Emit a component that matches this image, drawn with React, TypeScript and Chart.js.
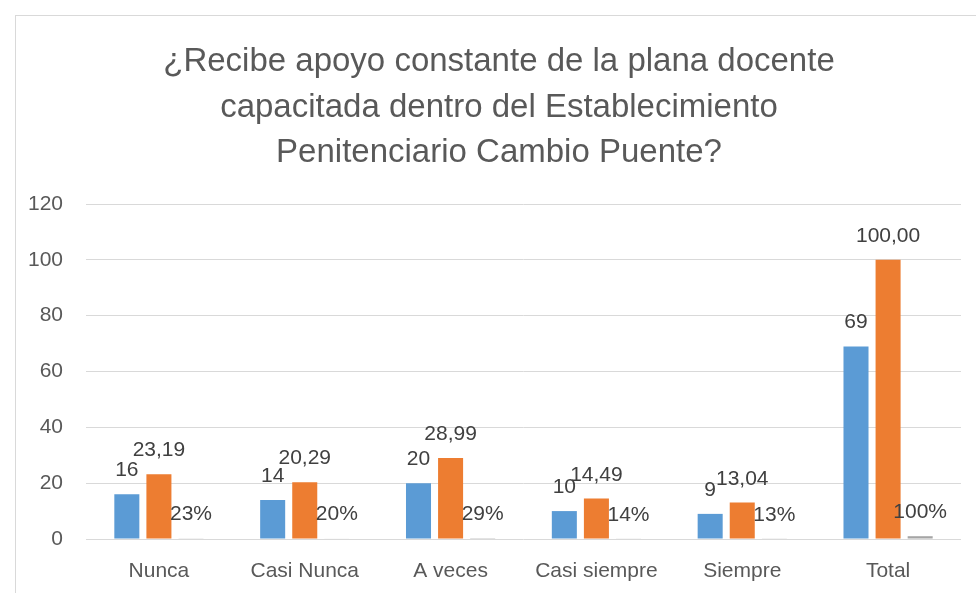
import React, { useEffect, useRef } from "react";
import { Chart, registerables } from "chart.js";

Chart.register(...registerables);

const categories = ["Nunca", "Casi Nunca", "A veces", "Casi siempre", "Siempre", "Total"];
const frecuencia = [16, 14, 20, 10, 9, 69];
const porcentaje = [23.19, 20.29, 28.99, 14.49, 13.04, 100.0];
const proporcion = [0.23, 0.2, 0.29, 0.14, 0.13, 1.0];
const titleLines = [
  "¿Recibe apoyo constante de la plana docente",
  "capacitada dentro del Establecimiento",
  "Penitenciario Cambio Puente?",
];
const yTicks = { min: 0, max: 120, step: 20 };

const FONT = "'Liberation Sans', Arial, sans-serif";

const fmtCount = (v: number) => String(v);
const fmtPct = (v: number) => v.toFixed(2).replace(".", ",");
const fmtProp = (v: number) => Math.round(v * 100) + "%";

const decorPlugin = {
  id: "decor",
  beforeDraw(chart: any) {
    const ctx = chart.ctx;
    ctx.save();
    ctx.fillStyle = "#ffffff";
    ctx.fillRect(0, 0, chart.width, chart.height);
    ctx.strokeStyle = "#d9d9d9";
    ctx.lineWidth = 1;
    ctx.strokeRect(15.5, 15.5, chart.width + 50, chart.height + 50);
    // title
    ctx.fillStyle = "#595959";
    ctx.font = `33px ${FONT}`;
    ctx.textAlign = "center";
    ctx.textBaseline = "alphabetic";
    const cx = 499;
    titleLines.forEach((line, i) => {
      ctx.fillText(line, cx, 71 + i * 45.5);
    });
    ctx.restore();
  },
  afterDatasetsDraw(chart: any) {
    const ctx = chart.ctx;
    const formatters = [fmtCount, fmtPct, fmtProp];
    ctx.save();
    ctx.fillStyle = "#404040";
    ctx.font = `21px ${FONT}`;
    ctx.textAlign = "center";
    ctx.textBaseline = "alphabetic";
    chart.data.datasets.forEach((ds: any, di: number) => {
      const meta = chart.getDatasetMeta(di);
      meta.data.forEach((bar: any, i: number) => {
        const v = ds.data[i];
        ctx.fillText(formatters[di](v), bar.x, bar.y - 18);
      });
    });
    ctx.restore();
  },
};

export default function App() {
  const ref = useRef<HTMLCanvasElement | null>(null);
  useEffect(() => {
    if (!ref.current) return;
    const chart = new Chart(ref.current, {
      type: "bar",
      data: {
        labels: categories,
        datasets: [
          { label: "Frecuencia", data: frecuencia, backgroundColor: "#5b9bd5" },
          { label: "Porcentaje", data: porcentaje, backgroundColor: "#ed7d31" },
          { label: "Proporción", data: proporcion, backgroundColor: "#a5a5a5" },
        ],
      },
      options: {
        responsive: false,
        animation: false,
        devicePixelRatio: 1,
        layout: { padding: { top: 204, right: 15, left: 0, bottom: 0 } },
        datasets: { bar: { categoryPercentage: 0.66, barPercentage: 0.78 } },
        plugins: {
          legend: { display: false },
          title: { display: false },
          tooltip: { enabled: false },
        },
        scales: {
          x: {
            grid: { display: false },
            border: { display: false },
            ticks: { color: "#595959", font: { family: FONT, size: 21 }, padding: 12 },
            afterFit: (s: any) => { s.height = 54; },
          },
          y: {
            min: yTicks.min,
            max: yTicks.max,
            grid: { color: "#d9d9d9", lineWidth: 1, drawTicks: false },
            border: { display: false },
            ticks: { stepSize: yTicks.step, color: "#595959", font: { family: FONT, size: 21 }, padding: 23 },
            afterFit: (s: any) => { s.width = 86; },
          },
        },
      },
      plugins: [decorPlugin],
    });
    return () => chart.destroy();
  }, []);
  return (
    <div style={{ position: "fixed", left: 0, top: 0, width: 976, height: 593, background: "#fff", overflow: "hidden" }}>
      <canvas ref={ref} width={976} height={593} style={{ display: "block" }} />
    </div>
  );
}
